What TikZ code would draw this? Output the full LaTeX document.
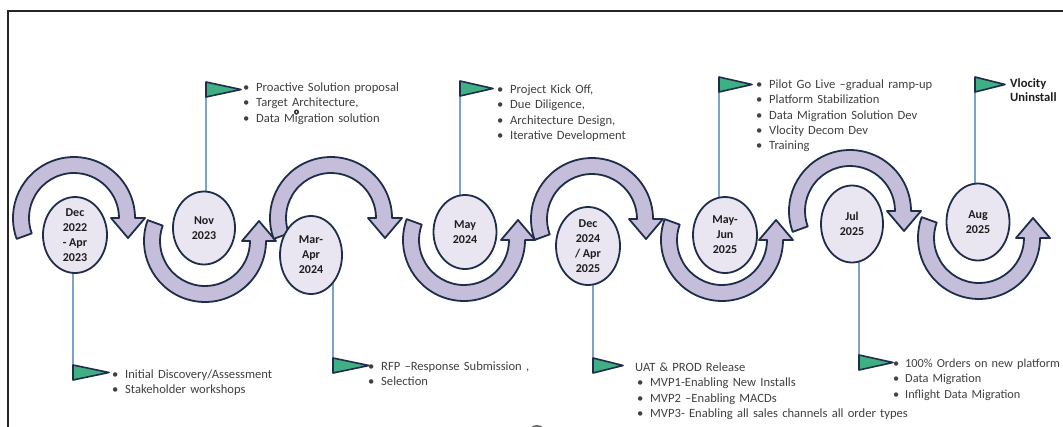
\documentclass[tikz,border=0pt]{standalone}
\usepackage{fontspec}
\setmainfont{Carlito}
\usetikzlibrary{backgrounds,shapes.geometric}

\definecolor{navy}{RGB}{31,45,74}
\definecolor{arcfill}{RGB}{196,190,218}
\definecolor{datefill}{RGB}{233,229,241}
\definecolor{datetext}{RGB}{30,30,30}
\definecolor{flaggreen}{RGB}{64,176,132}
\definecolor{stemblue}{RGB}{126,163,201}
\definecolor{bodytext}{RGB}{64,64,64}

% curved arrow over the top, head pointing down on the right
\newcommand{\toparc}[2]{%
  \path[arcband] ({#1+61*cos(160)},{#2+61*sin(160)})
    arc[start angle=160,end angle=360,radius=61] -- ++(10,0)
    -- ({#1+54},{#2+20}) -- ({#1+37},#2) -- ({#1+45},#2)
    arc[start angle=360,end angle=160,radius=45] -- cycle;}
% curved arrow underneath, head pointing up on the right
\newcommand{\botarc}[2]{%
  \path[arcband] ({#1+61*cos(200)},{#2+61*sin(200)})
    arc[start angle=200,end angle=0,radius=61] -- ++(10,0)
    -- ({#1+54},{#2-20}) -- ({#1+37},#2) -- ({#1+45},#2)
    arc[start angle=0,end angle=200,radius=45] -- cycle;}
\newcommand{\pennant}[2]{%
  \draw[pennant] (#1) -- ++(#2,7.5) -- ++(-#2,7.5) -- cycle;}
\newcommand{\bitem}{\makebox[13pt][l]{•}}

\begin{document}
\begin{tikzpicture}[x=1pt,y=-1pt,
  arcband/.style={fill=arcfill, draw=navy, line width=1.8pt, line join=round},
  datenode/.style={ellipse, draw=navy, line width=1.8pt, fill=datefill,
    inner xsep=0pt, inner ysep=-12pt, align=center, text=datetext,
    font=\bfseries\fontsize{12}{15}\selectfont},
  stem/.style={draw=stemblue, line width=1.1pt},
  pennant/.style={fill=flaggreen, draw=navy, line width=1.6pt, line join=round},
  notes/.style={anchor=base west, inner sep=0pt, align=left, text width=420pt,
    text=bodytext, font=\fontsize{12.6}{15.3}\selectfont},
  boldnotes/.style={notes, text=datetext, font=\bfseries\fontsize{12.6}{14}\selectfont},
]
\useasboundingbox (0,0) rectangle (1063,426);

% frame
\draw[line width=2pt, black!85] (7.5,430) -- (7.5,10.5) -- (1070,10.5);

% serpentine arrows
\toparc{74}{218}
\botarc{205}{241}
\toparc{331}{218}
\botarc{464}{240}
\toparc{592}{219}
\botarc{722}{240}
\toparc{850}{211}
\botarc{979}{238}

% milestones
\node[datenode, minimum width=64, minimum height=76] (d1) at (75,235) {Dec\\2022\\- Apr\\2023};
\node[datenode, minimum width=62, minimum height=73] (d2) at (204,228) {Nov\\2023};
\node[datenode, minimum width=62, minimum height=78] (d3) at (311,255) {Mar-\\Apr\\2024};
\node[datenode, minimum width=63, minimum height=74] (d4) at (465,232) {May\\2024};
\node[datenode, minimum width=64, minimum height=78] (d5) at (588,246) {Dec\\2024\\/ Apr\\2025};
\node[datenode, minimum width=64, minimum height=76] (d6) at (725,235) {May-\\Jun\\2025};
\node[datenode, minimum width=62, minimum height=77] (d7) at (852,224) {Jul\\2025};
\node[datenode, minimum width=63, minimum height=77] (d8) at (978,222) {Aug\\2025};

% flag anchors (top-left corner of each pennant)
\coordinate (f1) at (73,365);
\coordinate (f2) at (206,82);
\coordinate (f3) at (333,358);
\coordinate (f4) at (460,81);
\coordinate (f5) at (593,358);
\coordinate (f6) at (719,77);
\coordinate (f7) at (859,355);
\coordinate (f8) at (975,77);

% flag poles
\begin{scope}[on background layer]
  \foreach \i in {1,...,8} \draw[stem] (f\i) -- (f\i |- d\i.center);
  \draw[stem] (f1) -- ++(0,15);
  \draw[stem] (f3) -- ++(0,15);
  \draw[stem] (f5) -- ++(0,15);
  \draw[stem] (f7) -- ++(0,15);
\end{scope}

\pennant{f1}{36}
\pennant{f2}{35}
\pennant{f3}{36}
\pennant{f4}{33}
\pennant{f5}{30}
\pennant{f6}{33}
\pennant{f7}{34}
\pennant{f8}{30}

% notes
\node[notes] (n2) at (243,91.5) {\bitem Proactive Solution proposal\\\bitem Target Architecture,\\\bitem Data Migration solution};
\node[notes] (n4) at (497,93.5) {\bitem Project Kick Off,\\\bitem Due Diligence,\\\bitem Architecture Design,\\\bitem Iterative Development};
\node[notes] (n6) at (756,88.5) {\bitem Pilot Go Live –gradual ramp-up\\\bitem Platform Stabilization\\\bitem Data Migration Solution Dev\\\bitem Vlocity Decom Dev\\\bitem Training};
\node[boldnotes] (n8) at (1010,87.5) {Vlocity\\Uninstall};
\node[notes] (n1) at (112,378.5) {\bitem Initial Discovery/Assessment\\\bitem Stakeholder workshops};
\node[notes] (n3) at (368,370.5) {\bitem RFP –Response Submission ,\\\bitem Selection};
\node[notes] (n5) at (635,371.5) {UAT \& PROD Release\\\hspace*{2pt}\bitem MVP1-Enabling New Installs\\\hspace*{2pt}\bitem MVP2 –Enabling MACDs\\\hspace*{2pt}\bitem MVP3- Enabling all sales channels all order types};
\node[notes, font=\fontsize{12.3}{15.3}\selectfont] (n7) at (893,367.5) {\makebox[12pt][l]{•}100\% Orders on new platform\\\makebox[12pt][l]{•}Data Migration\\\makebox[12pt][l]{•}Inflight Data Migration};

% small marks
\fill[black!80] (296.5,112) circle (2.6);
\fill[white] (296.5,112) circle (0.9);
\fill[black!60] (537,434) circle (9);
\end{tikzpicture}
\end{document}
